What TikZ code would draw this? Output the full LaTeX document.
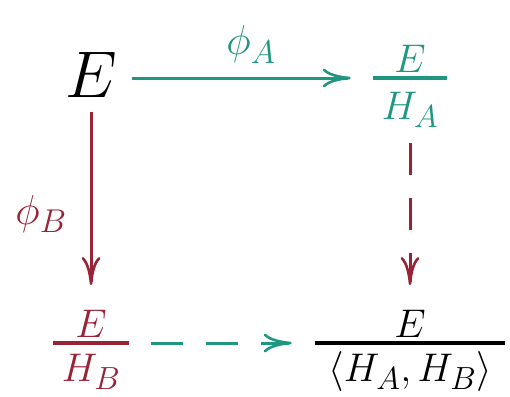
\documentclass[tikz,border=0pt]{standalone}
\RequirePackage{fix-cm}
\usepackage{amsmath}
\usetikzlibrary{arrows.meta}
\DeclareMathSizes{40}{40}{32}{24}
\DeclareMathSizes{42}{42}{33}{25}
\DeclareMathSizes{66}{66}{46}{33}
\definecolor{tealc}{RGB}{30,150,128}
\definecolor{redc}{RGB}{152,34,56}
\newcommand{\bigf}{\fontsize{66}{70}\selectfont}
\newcommand{\midf}{\fontsize{40}{44}\selectfont}
\newcommand{\lblf}{\fontsize{42}{46}\selectfont}
\newcommand{\myfrac}[3][36pt]{\genfrac{}{}{3.6pt}{1}{\textstyle #2}{\textstyle\rule{0pt}{#1}#3}}
\begin{document}
\begin{tikzpicture}[x=1pt,y=-1pt,
  every node/.style={inner sep=0pt, outer sep=0pt},
  objE/.style={font=\bigf, text height=45pt, text depth=7pt, anchor=base},
  objF/.style={font=\midf, text height=46pt, text depth=26pt, anchor=base},
  lbl/.style={font=\lblf, anchor=base},
  arr/.style={line width=3pt, -{Computer Modern Rightarrow[length=28pt,width=19pt,line width=2.6pt]}},
  dsh/.style={dash pattern=on 32pt off 23pt}
]
\useasboundingbox (0,0) rectangle (510,396);
\node[objE] (E) at (91,97) {$E$};
\node[objF, text=tealc] (FA) at (410,88) {$\myfrac{E}{\mkern4mu H_A\mkern4mu}$};
\node[objF, text=redc] (FB) at (91,353) {$\myfrac[33pt]{E}{\mkern4mu H_B\mkern4mu}$};
\node[objF] (FAB) at (410,353) {$\myfrac[33pt]{E}{\mkern6mu\langle H_A, H_B\rangle\mkern6mu}$};
\node[lbl, text=tealc] (LA) at (251,55) {$\phi_A$};
\node[lbl, text=redc] (LB) at (41,224) {$\phi_B$};
\draw[arr, tealc, shorten <=15pt, shorten >=21pt] (E.east) -- (E.east -| FA.west);
\draw[arr, redc, shorten <=8pt, shorten >=22pt] (E.south) -- (E.south |- FB.north);
\draw[arr, dsh, redc, shorten <=29pt, shorten >=22pt] (FA.south) -- (FA.south |- FAB.north);
\draw[arr, dsh, tealc, shorten <=21pt, shorten >=22pt] (FB.east) -- (FAB.west);
\end{tikzpicture}
\end{document}
